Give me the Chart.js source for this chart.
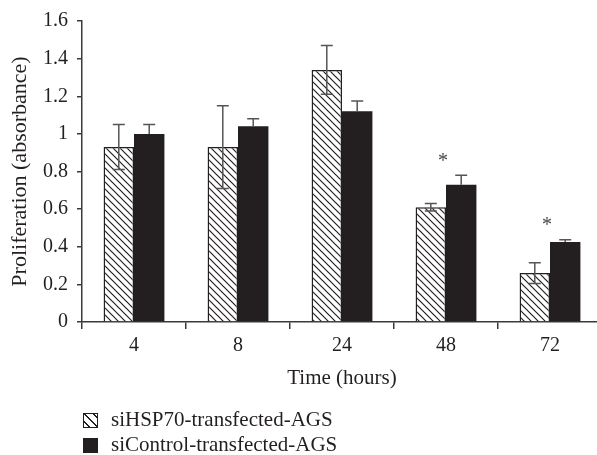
<!DOCTYPE html>
<html>
<head>
<meta charset="utf-8">
<script src="https://cdn.jsdelivr.net/npm/chart.js@4"></script>
<style>
  html, body { margin: 0; padding: 0; background: #fff; overflow: hidden; }
  #wrap { position: relative; width: 597px; height: 455px; overflow: hidden; }
  #chart { position: absolute; left: 0; top: 0; }
  .legend { position: absolute; left: 83px; font-family: "Liberation Serif", serif; font-size: 21px; color: #231f20; }
  .legend div { height: 25px; line-height: 25px; white-space: nowrap; }
  .swatch { display: inline-block; width: 15px; height: 15px; box-sizing: border-box; vertical-align: -2px; margin-right: 13px; }
  .sw-hatch { border: 1.5px solid #231f20; background: repeating-linear-gradient(45deg, #fff 0 3px, #231f20 3px 4.4px, #fff 4.4px 6px); }
  .sw-solid { background: #231f20; }
</style>
</head>
<body>
<div id="wrap">
  <canvas id="chart" width="605" height="455"></canvas>
  <div class="legend" style="top: 407px;">
    <div><span class="swatch sw-hatch"></span>siHSP70-transfected-AGS</div>
    <div><span class="swatch sw-solid"></span>siControl-transfected-AGS</div>
  </div>
</div>
<script>
const hours = ['4', '8', '24', '48', '72'];
const hspValues = [0.93, 0.93, 1.34, 0.61, 0.26];
const hspErrors = [0.12, 0.22, 0.13, 0.02, 0.055];
const ctrlValues = [1.0, 1.04, 1.12, 0.73, 0.425];
const ctrlErrors = [0.05, 0.04, 0.055, 0.05, 0.012];
const sigMarks = ['', '', '', '*', '*'];

const ink = '#231f20';
const axisColor = '#3a3a3a';
const fontFamily = '"Liberation Serif", serif';

function hatchPattern() {
    const size = 7;
    const c = document.createElement('canvas');
    c.width = size;
    c.height = size;
    const g = c.getContext('2d');
    g.fillStyle = '#fff';
    g.fillRect(0, 0, size, size);
    g.strokeStyle = ink;
    g.lineWidth = 1.2;
    g.beginPath();
    g.moveTo(-1, -1); g.lineTo(size + 1, size + 1);
    g.moveTo(-1, size - 1); g.lineTo(1, size + 1);
    g.moveTo(size - 1, -1); g.lineTo(size + 1, 1);
    g.stroke();
    return g.createPattern(c, 'repeat');
}

// error bars + significance marks, drawn from the bar elements
const errorBars = {
    id: 'errorBars',
    afterDatasetsDraw(chart) {
        const ctx = chart.ctx;
        const y = chart.scales.y;
        ctx.save();
        ctx.strokeStyle = '#555';
        ctx.lineWidth = 1.5;
        chart.data.datasets.forEach((ds, i) => {
            const meta = chart.getDatasetMeta(i);
            meta.data.forEach((bar, j) => {
                const v = ds.data[j];
                const e = ds.errors[j];
                const top = y.getPixelForValue(v + e);
                const bot = ds.fullError ? y.getPixelForValue(v - e) : y.getPixelForValue(v);
                ctx.beginPath();
                ctx.moveTo(bar.x, top); ctx.lineTo(bar.x, bot);
                ctx.moveTo(bar.x - 6, top); ctx.lineTo(bar.x + 6, top);
                if (ds.fullError) { ctx.moveTo(bar.x - 6, bot); ctx.lineTo(bar.x + 6, bot); }
                ctx.stroke();
            });
        });
        ctx.fillStyle = '#444';
        ctx.font = '20px ' + fontFamily;
        ctx.textAlign = 'center';
        ctx.textBaseline = 'middle';
        const x = chart.scales.x;
        sigMarks.forEach((m, j) => {
            if (!m) return;
            const py = y.getPixelForValue(ctrlValues[j] + ctrlErrors[j]) - 14;
            ctx.fillText(m, x.getPixelForValue(j) - 3, py);
        });
        ctx.restore();
    }
};

new Chart(document.getElementById('chart'), {
    type: 'bar',
    data: {
        labels: hours,
        datasets: [{
            label: 'siHSP70-transfected-AGS',
            data: hspValues,
            errors: hspErrors,
            fullError: true,
            backgroundColor: hatchPattern(),
            borderColor: ink,
            borderWidth: 1.5,
            borderSkipped: 'bottom'
        }, {
            label: 'siControl-transfected-AGS',
            data: ctrlValues,
            errors: ctrlErrors,
            fullError: false,
            backgroundColor: ink,
            borderWidth: 0
        }]
    },
    options: {
        responsive: false,
        animation: false,
        categoryPercentage: 0.585,
        barPercentage: 1,
        layout: { padding: { top: 17, right: 3, bottom: 63, left: 0 } },
        plugins: {
            legend: { display: false },
            tooltip: { enabled: false }
        },
        scales: {
            x: {
                afterFit: s => { s.height = 70; },
                border: { color: axisColor, width: 1.5 },
                grid: { drawOnChartArea: false, color: axisColor, lineWidth: 1.5, tickLength: 7 },
                ticks: { color: ink, padding: 5, font: { family: fontFamily, size: 20 } },
                title: {
                    display: true,
                    text: 'Time (hours)',
                    color: ink,
                    padding: { top: 0, bottom: 1 },
                    font: { family: fontFamily, size: 21 }
                }
            },
            y: {
                min: 0,
                max: 1.6,
                afterFit: s => { s.width = 82; },
                border: { color: axisColor, width: 1.5 },
                grid: { drawOnChartArea: false, color: axisColor, lineWidth: 1.5, tickLength: 5 },
                ticks: {
                    stepSize: 0.2,
                    color: ink,
                    padding: 9,
                    font: { family: fontFamily, size: 20 },
                    callback: v => String(+v.toFixed(1))
                },
                title: {
                    display: true,
                    text: 'Proliferation (absorbance)',
                    color: ink,
                    padding: { top: 7, bottom: 0 },
                    font: { family: fontFamily, size: 22 }
                }
            }
        }
    },
    plugins: [errorBars]
});
</script>
</body>
</html>
